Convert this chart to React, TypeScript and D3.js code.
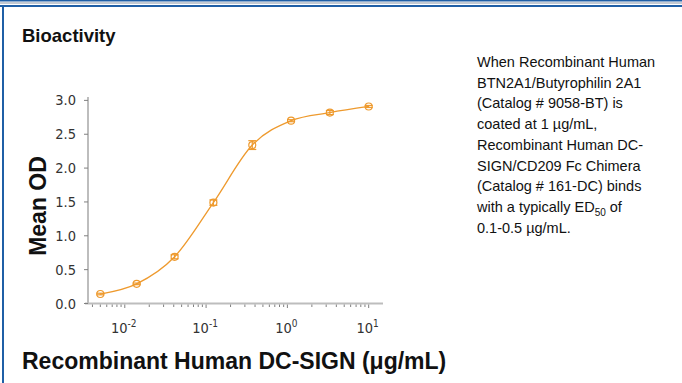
import React from "react";
import * as d3 from "d3";

const concentrations = [0.005, 0.014, 0.041, 0.123, 0.37, 1.11, 3.33, 10];
const meanOD = [0.14, 0.29, 0.69, 1.49, 2.34, 2.7, 2.82, 2.91];
const errorOD = [0.012, 0.012, 0.03, 0.04, 0.065, 0.015, 0.03, 0.015];
const yTicks = [0, 0.5, 1.0, 1.5, 2.0, 2.5, 3.0];
const xMajorTicks = [0.01, 0.1, 1, 10];
const xExponents = ["-2", "-1", "0", "1"];
const descriptionLines = [
  "When Recombinant Human",
  "BTN2A1/Butyrophilin 2A1",
  "(Catalog # 9058-BT) is",
  "coated at 1 \u00b5g/mL,",
  "Recombinant Human DC-",
  "SIGN/CD209 Fc Chimera",
  "(Catalog # 161-DC) binds",
  "with a typically ED|50| of",
  "0.1-0.5 \u00b5g/mL.",
];

const ORANGE = "#EE9A2E";
const BLUE = "#1F5FA6";
const AXIS = "#BDBDBD";
const TICK = "#808080";
const COND = "'DejaVu Sans Condensed', 'Liberation Sans Narrow', sans-serif";
const ARIAL = "'Liberation Sans', Arial, sans-serif";

export default function App() {
  const W = 682;
  const H = 383;
  const x = d3.scaleLog().domain([0.00324, 15]).range([85, 383]);
  const y = d3.scaleLinear().domain([0, 3.05]).range([303.5, 97]);

  const minorTicks: number[] = [];
  for (let e = -3; e <= 1; e++) {
    for (let m = 2; m <= 9; m++) {
      const v = m * Math.pow(10, e);
      if (v >= x.domain()[0] && v <= x.domain()[1]) minorTicks.push(v);
    }
  }

  const pts = concentrations.map((c, i) => [x(c), y(meanOD[i])] as [number, number]);
  const line = d3.line<[number, number]>().curve(d3.curveMonotoneX)(pts) || "";

  return (
    <svg
      width={W}
      height={H}
      style={{ position: "absolute", left: 0, top: 0, background: "#fff" }}
    >
      {/* frame */}
      <rect x={0} y={0} width={W} height={1.5} fill={BLUE} />
      <rect x={0} y={2} width={W} height={2} fill="#C3CAD3" />
      <rect x={0} y={5} width={W} height={2} fill={BLUE} />
      <rect x={2} y={5} width={2} height={H - 5} fill={BLUE} />

      <text x={22} y={42} fontFamily={ARIAL} fontWeight="bold" fontSize={18.5} fill="#111">
        Bioactivity
      </text>

      {/* axes */}
      <line x1={88} x2={88} y1={97} y2={304} stroke={AXIS} strokeWidth={2} />
      <line x1={85} x2={383} y1={303.5} y2={303.5} stroke={AXIS} strokeWidth={2} />
      {yTicks.map((t) => (
        <g key={t}>
          <line x1={84} x2={88} y1={y(t)} y2={y(t)} stroke={TICK} strokeWidth={1} />
          <text
            x={76}
            y={y(t) + 5}
            textAnchor="end"
            fontFamily={COND}
            fontSize={14.5}
            fill="#333"
          >
            {t.toFixed(1)}
          </text>
        </g>
      ))}
      {minorTicks.map((t) => (
        <line key={t} x1={x(t)} x2={x(t)} y1={304.5} y2={307} stroke={TICK} strokeWidth={1} />
      ))}
      {xMajorTicks.map((t, i) => (
        <g key={t}>
          <line x1={x(t)} x2={x(t)} y1={304.5} y2={308} stroke={TICK} strokeWidth={1} />
          <text
            x={x(t) - 1}
            y={333}
            textAnchor="middle"
            fontFamily={COND}
            fontSize={14.5}
            fill="#333"
          >
            10
            <tspan fontSize={10} dy={-6}>
              {xExponents[i]}
            </tspan>
          </text>
        </g>
      ))}

      {/* curve */}
      <path d={line} fill="none" stroke={ORANGE} strokeWidth={1.3} />

      {/* points with error bars */}
      {concentrations.map((c, i) => {
        const cx = x(c);
        const y1 = y(meanOD[i] + errorOD[i]);
        const y2 = y(meanOD[i] - errorOD[i]);
        return (
          <g key={c} stroke={ORANGE} strokeWidth={1.2} fill="none">
            <line x1={cx} x2={cx} y1={y1} y2={y2} />
            <line x1={cx - 4} x2={cx + 4} y1={y1} y2={y1} />
            <line x1={cx - 4} x2={cx + 4} y1={y2} y2={y2} />
            <circle cx={cx} cy={y(meanOD[i])} r={3.5} />
          </g>
        );
      })}

      <text
        transform={`translate(46, 206) rotate(-90)`}
        textAnchor="middle"
        fontFamily={ARIAL}
        fontWeight="bold"
        fontSize={23}
        fill="#111"
      >
        Mean OD
      </text>

      <text x={22} y={369} fontFamily={ARIAL} fontWeight="bold" fontSize={23} fill="#111">
        Recombinant Human DC-SIGN (
        <tspan>{"\u03bc"}</tspan>g/mL)
      </text>

      {descriptionLines.map((l, i) => {
        const parts = l.split("|");
        return (
          <text
            key={i}
            x={477}
            y={67 + i * 20.7}
            fontFamily={ARIAL}
            fontSize={14.5}
            fill="#111"
          >
            {parts.length === 1 ? (
              l
            ) : (
              <>
                {parts[0]}
                <tspan fontSize={10} dy={4}>
                  {parts[1]}
                </tspan>
                <tspan dy={-4}>{parts[2]}</tspan>
              </>
            )}
          </text>
        );
      })}
    </svg>
  );
}
